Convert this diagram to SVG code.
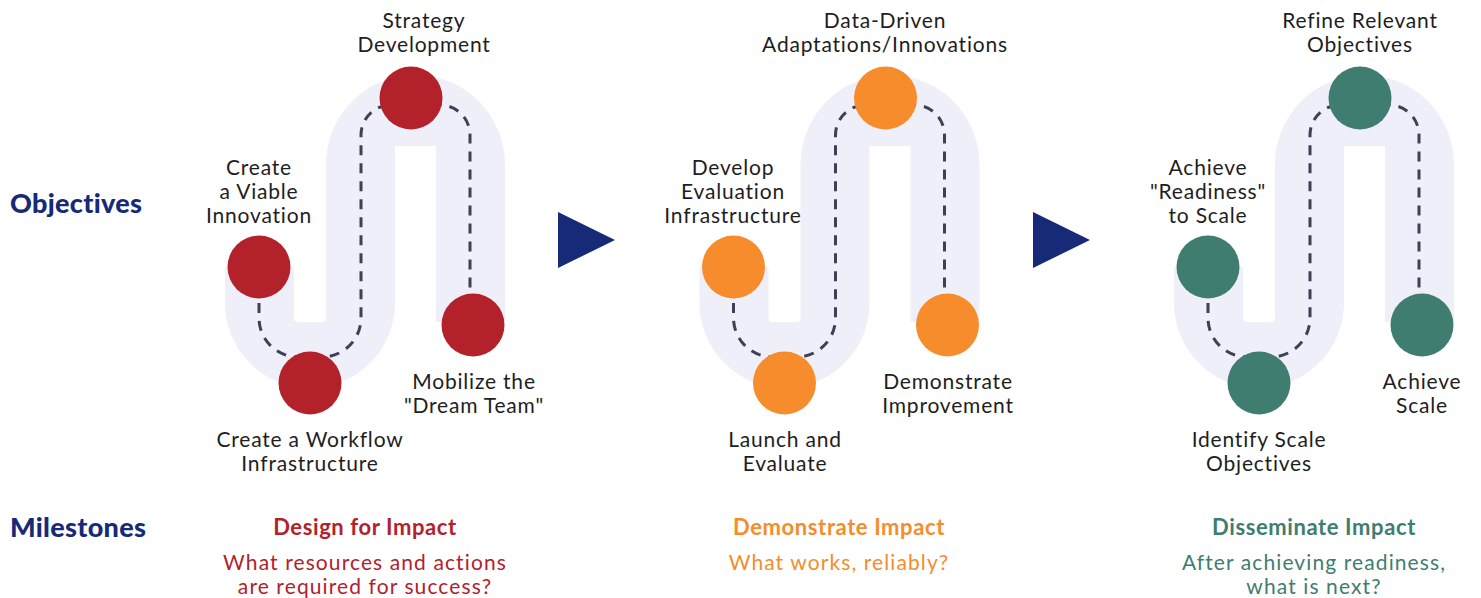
<svg xmlns="http://www.w3.org/2000/svg" width="1481" height="598" viewBox="0 0 1481 598">
<defs>
<style>
.band{fill:#EEEFF8;stroke:none}
.dash{fill:none;stroke:#3F3F58;stroke-width:3;stroke-dasharray:10 8}
.lbl{font-family:Lato,"Liberation Sans",sans-serif;font-size:21px;letter-spacing:0.8px;fill:#1E1E1E;text-anchor:middle}
.side{font-family:Lato,"Liberation Sans",sans-serif;font-size:27px;letter-spacing:0.3px;font-weight:900;fill:#162A78}
.mt{font-family:Lato,"Liberation Sans",sans-serif;font-size:22px;letter-spacing:0.6px;font-weight:700;text-anchor:middle}
.ms{font-family:Lato,"Liberation Sans",sans-serif;font-size:21px;letter-spacing:1.1px;text-anchor:middle}
.red{fill:#B3212B}.org{fill:#F68C2B}.grn{fill:#3E7D6F}
.tri{fill:#162A78}
</style>
<path id="bandShape" d="M225,267 V303 A85,85 0 0 0 395,303 V146 H436 V322 H505 V164.5 A89.5,89.5 0 0 0 326,164.5 V318 Q326,322 322,322 H298 Q294,322 294,318 V267 Z"/>
<path id="dashPath" d="M259,267 V318 A39,39 0 0 0 298,357 H322 A39,39 0 0 0 361,318 V135 A30,30 0 0 1 391,105 H440 A30,30 0 0 1 470,135 V325"/>
</defs>
<rect width="1481" height="598" fill="#FFFFFF"/>

<text class="side" x="10" y="213">Objectives</text>
<text class="side" x="10" y="537">Milestones</text>

<g id="connectors">
<use href="#bandShape" class="band"/>
<use href="#bandShape" class="band" transform="translate(474.5,0)"/>
<use href="#bandShape" class="band" transform="translate(949,0)"/>
<use href="#dashPath" class="dash"/>
<use href="#dashPath" class="dash" transform="translate(474.5,0)"/>
<use href="#dashPath" class="dash" transform="translate(949,0)"/>
<polygon class="tri" points="558,212 615,240 558,268"/>
<polygon class="tri" points="1033,212 1090,240 1033,268"/>
</g>

<!-- Stage 1 -->
<g id="n1-viable"><circle class="red" cx="259" cy="267" r="31.5"/><text class="lbl" x="259" y="175">Create</text><text class="lbl" x="259" y="199">a Viable</text><text class="lbl" x="259" y="223">Innovation</text></g>
<g id="n1-workflow"><circle class="red" cx="310" cy="383" r="31.5"/><text class="lbl" x="310" y="447">Create a Workflow</text><text class="lbl" x="310" y="471">Infrastructure</text></g>
<g id="n1-strategy"><circle class="red" cx="411" cy="98" r="31.5"/><text class="lbl" x="424" y="28">Strategy</text><text class="lbl" x="424" y="52">Development</text></g>
<g id="n1-dream"><circle class="red" cx="473" cy="325" r="31.5"/><text class="lbl" x="474" y="389">Mobilize the</text><text class="lbl" x="474" y="413">"Dream Team"</text></g>
<g id="m1"><text class="mt red" x="365" y="535">Design for Impact</text><text class="ms red" x="365" y="570">What resources and actions</text><text class="ms red" x="365" y="594">are required for success?</text></g>

<!-- Stage 2 -->
<g id="n2-eval"><circle class="org" cx="733.5" cy="267" r="31.5"/><text class="lbl" x="733" y="175">Develop</text><text class="lbl" x="733" y="199">Evaluation</text><text class="lbl" x="733" y="223">Infrastructure</text></g>
<g id="n2-launch"><circle class="org" cx="784.5" cy="383" r="31.5"/><text class="lbl" x="785" y="447">Launch and</text><text class="lbl" x="785" y="471">Evaluate</text></g>
<g id="n2-data"><circle class="org" cx="885.5" cy="98" r="31.5"/><text class="lbl" x="885" y="28">Data-Driven</text><text class="lbl" x="885" y="52">Adaptations/Innovations</text></g>
<g id="n2-improve"><circle class="org" cx="947.5" cy="325" r="31.5"/><text class="lbl" x="948" y="389">Demonstrate</text><text class="lbl" x="948" y="413">Improvement</text></g>
<g id="m2"><text class="mt org" x="839" y="535">Demonstrate Impact</text><text class="ms org" x="839" y="570">What works, reliably?</text></g>

<!-- Stage 3 -->
<g id="n3-ready"><circle class="grn" cx="1208" cy="267" r="31.5"/><text class="lbl" x="1208" y="175">Achieve</text><text class="lbl" x="1208" y="199">"Readiness"</text><text class="lbl" x="1208" y="223">to Scale</text></g>
<g id="n3-identify"><circle class="grn" cx="1259" cy="383" r="31.5"/><text class="lbl" x="1259" y="447">Identify Scale</text><text class="lbl" x="1259" y="471">Objectives</text></g>
<g id="n3-refine"><circle class="grn" cx="1360" cy="98" r="31.5"/><text class="lbl" x="1360" y="28">Refine Relevant</text><text class="lbl" x="1360" y="52">Objectives</text></g>
<g id="n3-scale"><circle class="grn" cx="1422" cy="325" r="31.5"/><text class="lbl" x="1422" y="389">Achieve</text><text class="lbl" x="1422" y="413">Scale</text></g>
<g id="m3"><text class="mt grn" x="1314" y="535">Disseminate Impact</text><text class="ms grn" x="1314" y="570">After achieving readiness,</text><text class="ms grn" x="1314" y="594">what is next?</text></g>
</svg>
